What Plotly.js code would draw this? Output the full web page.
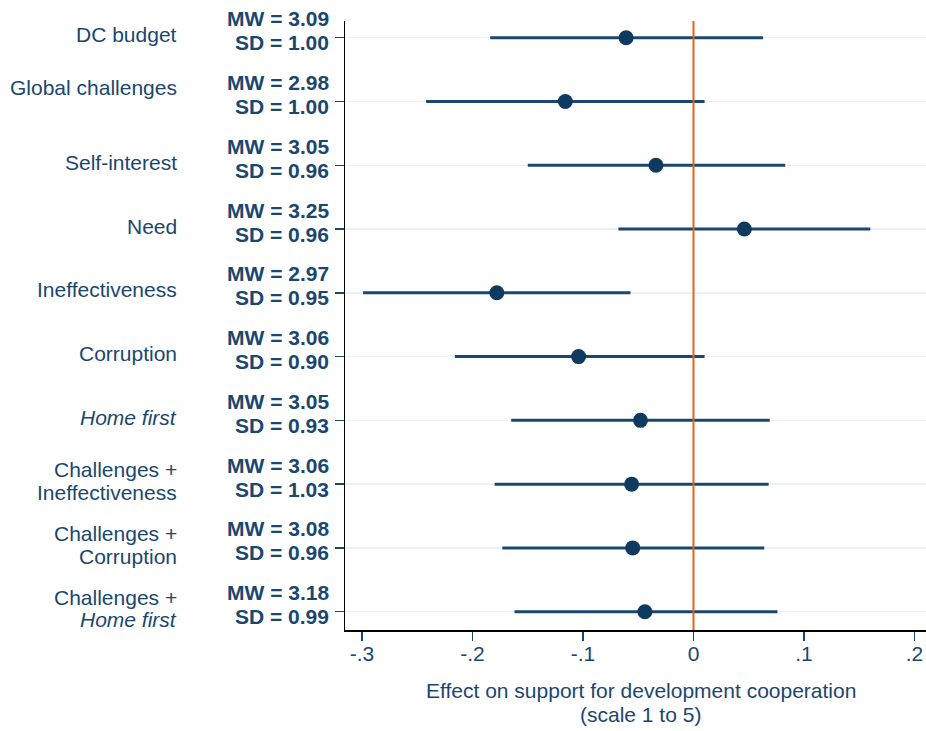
<!DOCTYPE html>
<html>
<head>
<meta charset="utf-8">
<script src="https://cdn.plot.ly/plotly-3.0.1.min.js"></script>
<style>html,body{margin:0;padding:0;background:#fff;}#chart{width:926px;height:731px;}</style>
</head>
<body>
<div id="chart"></div>
<script>
// Data
const categories = ["DC budget", "Global challenges<br>", "Self-interest", "Need", "Ineffectiveness", "Corruption", "<i>Home first</i>", "Challenges +<br>Ineffectiveness", "Challenges +<br>Corruption", "Challenges +<br><i>Home first</i>"];
const mwValues = ["3.09", "2.98", "3.05", "3.25", "2.97", "3.06", "3.05", "3.06", "3.08", "3.18"];
const sdValues = ["1.00", "1.00", "0.96", "0.96", "0.95", "0.90", "0.93", "1.03", "0.96", "0.99"];
const estimates = [-0.061, -0.116, -0.034, 0.046, -0.178, -0.104, -0.048, -0.056, -0.055, -0.044];
const ciLow = [-0.184, -0.242, -0.150, -0.068, -0.299, -0.216, -0.165, -0.180, -0.173, -0.162];
const ciHigh = [0.063, 0.010, 0.083, 0.160, -0.057, 0.010, 0.069, 0.068, 0.064, 0.076];
const xTickVals = [-0.3, -0.2, -0.1, 0, 0.1, 0.2];
const xTickText = ["-.3", "-.2", "-.1", "0", ".1", ".2"];
const xTitleLines = ["Effect on support for development cooperation", "(scale 1 to 5)"];

const navy = "#1a476f";
const rows = categories.map((_, i) => i + 1);

const trace = {
  type: "scatter",
  mode: "markers",
  x: estimates,
  y: rows,
  marker: {size: 15, color: "#0e3a60"},
  error_x: {
    type: "data",
    symmetric: false,
    array: ciHigh.map((h, i) => h - estimates[i]),
    arrayminus: ciLow.map((l, i) => estimates[i] - l),
    color: navy,
    thickness: 3,
    width: 0
  },
  hoverinfo: "skip",
  showlegend: false
};

const font = "'Liberation Sans', Arial, sans-serif";
const annotations = [];
const catSpacing = 22.5;
categories.forEach((c, i) => {
  const lines = c.split("<br>");
  const n = lines.length;
  lines.forEach((ln, k) => {
    if (!ln) return;
    annotations.push({
      xref: "paper", yref: "y", x: 0, y: rows[i],
      xanchor: "right", yanchor: "middle", align: "right",
      xshift: -166, yshift: 3 - (k - (n - 1) / 2) * catSpacing,
      text: ln, showarrow: false,
      font: {family: font, size: 21, color: navy}
    });
  });
  const stat = ["<b>MW = " + mwValues[i] + "</b>", "<b>SD = " + sdValues[i] + "</b>"];
  stat.forEach((s, k) => {
    annotations.push({
      xref: "paper", yref: "y", x: 0, y: rows[i],
      xanchor: "right", yanchor: "middle", align: "right",
      xshift: -14, yshift: 7 - (k - 0.5) * 24,
      text: s, showarrow: false,
      font: {family: font, size: 21, color: navy}
    });
  });
});
xTitleLines.forEach((t, k) => {
  annotations.push({
    xref: "paper", yref: "paper", x: 0.5, y: 0,
    xanchor: "center", yanchor: "middle",
    xshift: 5, yshift: -60 - k * 24,
    text: t, showarrow: false,
    font: {family: font, size: 21, color: navy}
  });
});

const layout = {
  width: 926, height: 731,
  margin: {l: 345, r: 0, t: 21, b: 101},
  paper_bgcolor: "#ffffff",
  plot_bgcolor: "#ffffff",
  font: {family: font, color: navy, size: 21},
  xaxis: {
    range: [-0.3154, 0.2104],
    tickvals: xTickVals, ticktext: xTickText,
    ticks: "outside", ticklen: 9, tickwidth: 1.5, tickcolor: navy,
    ticklabelstandoff: -5,
    showgrid: false, zeroline: false,
    showline: true, linecolor: "#000", linewidth: 1.5,
    tickfont: {family: font, size: 21, color: navy}
  },
  yaxis: {
    range: [10.287, 0.738],
    tickvals: rows, ticktext: rows.map(() => ""),
    ticks: "outside", ticklen: 9, tickwidth: 1.5, tickcolor: navy,
    showgrid: true, gridcolor: "#e9f1f2", gridwidth: 1.5,
    zeroline: false,
    showline: true, linecolor: "#000", linewidth: 1.5
  },
  shapes: [{
    type: "line", xref: "x", yref: "paper", x0: 0, x1: 0, y0: 0, y1: 1,
    line: {color: "#e0661a", width: 2}
  }],
  annotations: annotations
};

Plotly.newPlot("chart", [trace], layout, {displayModeBar: false, staticPlot: true});
</script>
</body>
</html>
